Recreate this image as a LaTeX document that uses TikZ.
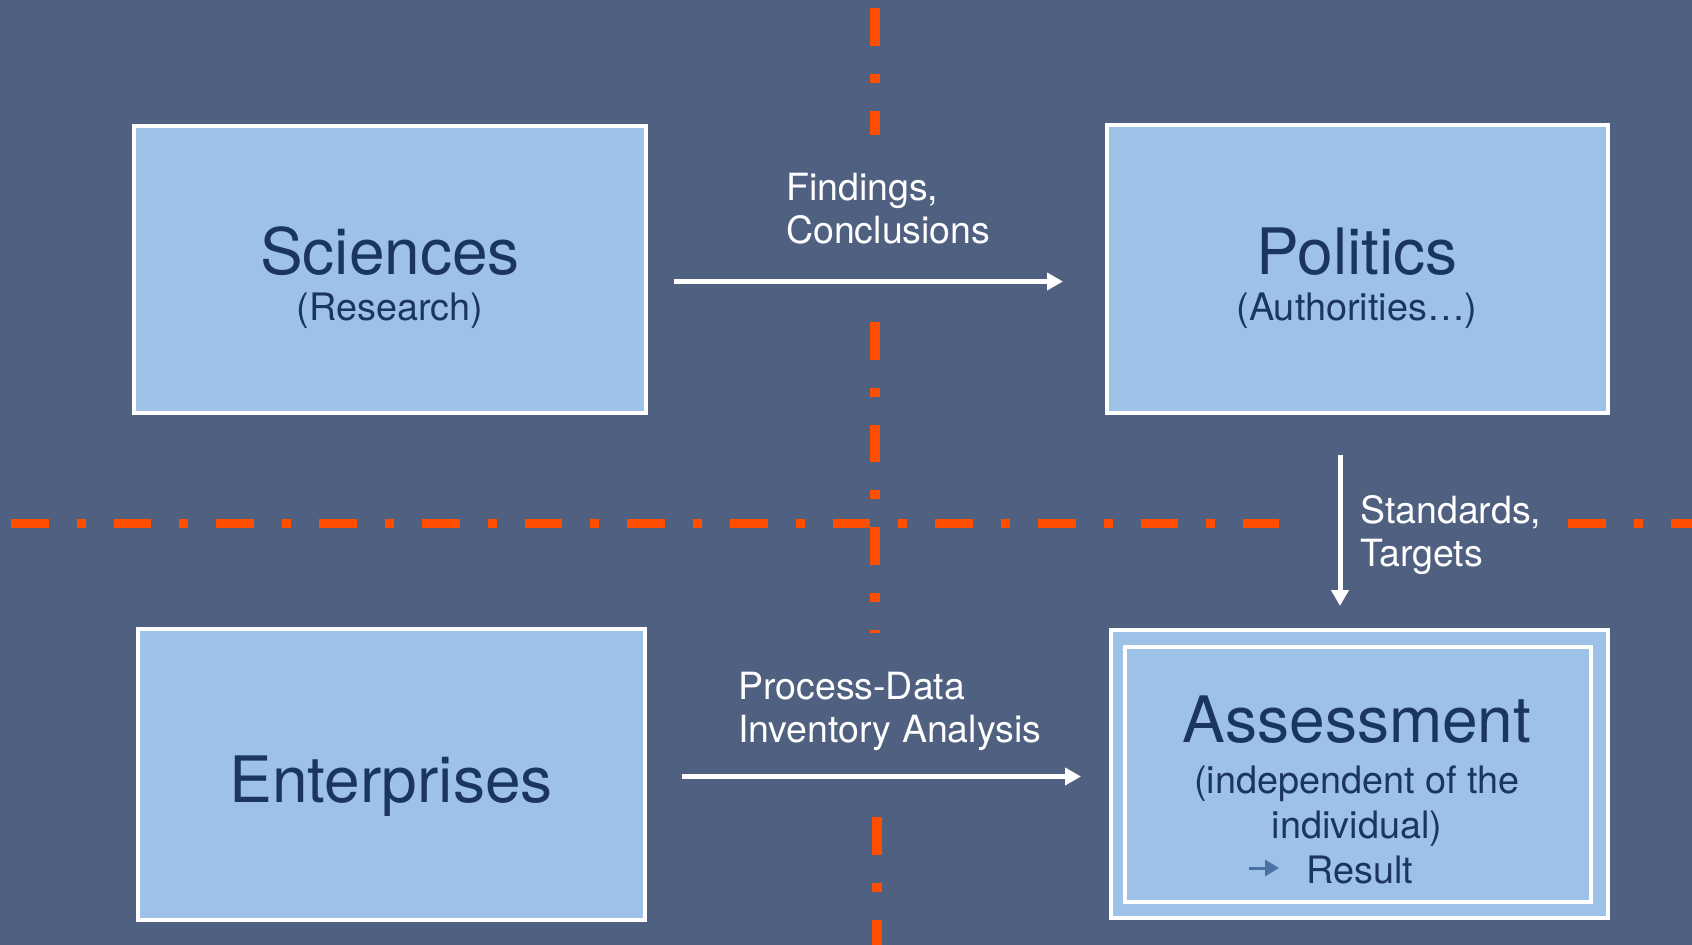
\documentclass[tikz,border=0pt]{standalone}
\usepackage{fontspec}
\setmainfont{TeX Gyre Heros}
\usetikzlibrary{arrows.meta}
\definecolor{bg}{RGB}{79,96,128}
\definecolor{boxfill}{RGB}{158,193,232}
\definecolor{navy}{RGB}{26,54,94}
\definecolor{orng}{RGB}{255,78,0}
\definecolor{steel}{RGB}{72,114,162}
\tikzset{
  card/.style={draw=white, line width=4pt, fill=boxfill, inner sep=0pt},
  orangeline/.style={draw=orng, line width=9.5pt, dash pattern=on 37.7pt off 28pt on 9pt off 28pt},
  flow/.style={draw=white, line width=5pt, -{Triangle[length=16pt,width=17pt]}},
  lbl/.style={text=white, anchor=base west, inner sep=0pt, font=\fontsize{37.5}{43}\selectfont, align=left},
  big/.style={text=navy, anchor=base, inner sep=0pt, font=\fontsize{64}{77}\selectfont},
  small/.style={text=navy, anchor=base, inner sep=0pt, font=\fontsize{37.8}{45}\selectfont}
}
\begin{document}
\begin{tikzpicture}[x=1pt,y=-1pt]
\fill[bg] (0,0) rectangle (1692,945);
\useasboundingbox (0,0) rectangle (1692,945);
% orange dash-dot lines
\draw[orangeline] (875,8) -- (875,135);
\draw[orangeline] (875,322) -- (875,633);
\draw[orangeline] (877,817) -- (877,945);
\draw[orangeline] (11,523.5) -- (1279,523.5);
\draw[orangeline] (1568,523.5) -- (1692,523.5);
% boxes
\node[card, minimum width=512pt, minimum height=287pt] (sci) at (390,269.5) {};
\node[card, minimum width=501pt, minimum height=288pt] (pol) at (1357.5,269) {};
\node[card, minimum width=507pt, minimum height=291pt] (ent) at (391.5,774.5) {};
\node[card, minimum width=497pt, minimum height=288pt] (asm) at (1359.5,774) {};
\node[draw=white, line width=4pt, inner sep=0pt, minimum width=466pt, minimum height=255pt] (asmin) at (1358,774.5) {};
% box texts
\node[big] (scit) at (390,274) {Sciences};
\node[small] (scis) at (390,320) {(Research)};
\node[big] (polt) at (1357,274) {Politics};
\node[small] (pols) at (1357,320) {(Authorities…)};
\node[big] (entt) at (391,802) {Enterprises};
\node[big] (asmt) at (1357,742) {Assessment};
\node[small] (asm1) at (1357,793) {(independent of the};
\node[small] (asm2) at (1357,838) {individual)};
\node[small, anchor=base west] (res) at (1306,883) {Result};
\coordinate (ra) at (1249,868);
\draw[steel, line width=3pt, -{Triangle[length=14pt,width=16pt]}] (ra) -- ([xshift=-27pt]res.west |- ra);
% connectors
\draw[flow, shorten <=26pt, shorten >=42pt] ([yshift=-12pt]sci.east) -- ([yshift=-12pt]sci.east -| pol.west);
\draw[flow, shorten <=40pt, shorten >=22pt] ([xshift=-17.5pt]pol.south) -- ([xshift=-17.5pt]pol.south |- asm.north);
\draw[flow, shorten <=35pt, shorten >=28pt] ([yshift=-2pt]ent.east) -- ([yshift=-2pt]ent.east -| asm.west);
% labels
\node[lbl] (find) at (786,243) {Findings,\\Conclusions};
\node[lbl] (std) at (1360,566) {Standards,\\Targets};
\node[lbl] (proc) at (738,742) {Process-Data\\Inventory Analysis};
\end{tikzpicture}
\end{document}
